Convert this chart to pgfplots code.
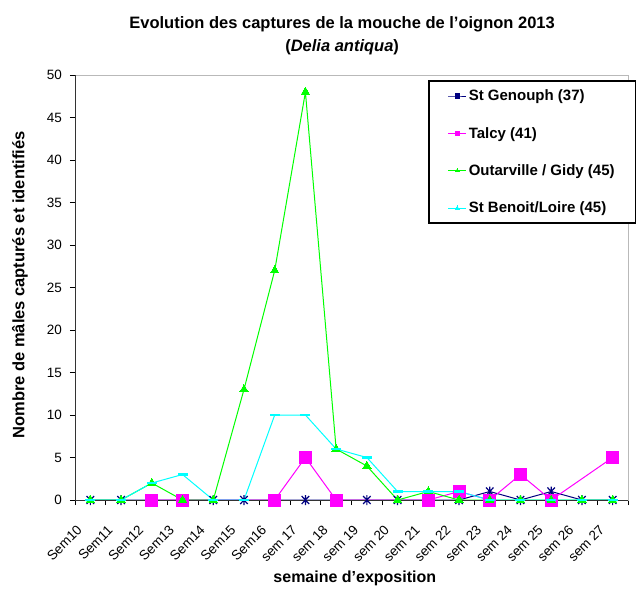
\documentclass[border=0pt]{standalone}
\usepackage{pgfplots}
\pgfplotsset{compat=1.18}
\usepackage{fontspec}
\setmainfont{Liberation Sans}
\definecolor{cnavy}{RGB}{0,0,128}
\definecolor{cmag}{RGB}{255,0,255}
\definecolor{cgreen}{RGB}{0,255,0}
\definecolor{ccyan}{RGB}{0,255,255}
\pgfdeclareplotmark{xstar}{%
  \pgfpathmoveto{\pgfqpoint{-0.75\pgfplotmarksize}{-0.8\pgfplotmarksize}}%
  \pgfpathlineto{\pgfqpoint{0.75\pgfplotmarksize}{0.8\pgfplotmarksize}}%
  \pgfpathmoveto{\pgfqpoint{-0.75\pgfplotmarksize}{0.8\pgfplotmarksize}}%
  \pgfpathlineto{\pgfqpoint{0.75\pgfplotmarksize}{-0.8\pgfplotmarksize}}%
  \pgfpathmoveto{\pgfqpoint{0pt}{-\pgfplotmarksize}}%
  \pgfpathlineto{\pgfqpoint{0pt}{\pgfplotmarksize}}%
  \pgfusepathqstroke}
\begin{document}
\begin{tikzpicture}
\begin{axis}[
  scale only axis,
  width=553pt, height=425pt,
  xmin=-0.5, xmax=17.5,
  ymin=0, ymax=50,
  xtick={-0.5,0.5,...,17.5},
  x tick label as interval,
  xticklabels={Sem10,Sem11,Sem12,Sem13,Sem14,Sem15,Sem16,sem 17,sem 18,sem 19,sem 20,sem 21,sem 22,sem 23,sem 24,sem 25,sem 26,sem 27},
  ytick={0,5,...,50},
  tick align=outside,
  xtick pos=bottom, ytick pos=left,
  major tick length=5pt,
  tick style={black, line width=0.6pt},
  axis line style={gray!55, line width=0.8pt},
  /pgf/number format/assume math mode=true,
  tick label style={font=\fontsize{13.5}{15}\selectfont},
  xticklabel style={xshift=-10pt, yshift=-22pt, rotate=45, anchor=east, inner sep=1pt},
  yticklabel style={inner sep=1pt, xshift=-7pt},
  clip=false,
  legend style={draw=black, line width=1.6pt, at={(0.6383,0.9882)}, anchor=north west,
    font=\bfseries\fontsize{15}{17}\selectfont, row sep=21pt, inner xsep=19pt, inner ysep=7pt,
    legend cell align=left},
  legend image code/.code={\draw[mark repeat=2,mark phase=2] plot coordinates {(0pt,0pt) (9pt,0pt) (18pt,0pt)};},
]
\addplot[cnavy, line width=1pt, mark=xstar, mark size=5pt, mark options={line width=1.2pt},
  legend image post style={mark=square*, mark size=2pt, line width=1pt}]
  coordinates {(0,0)(1,0)(2,0)(3,0)(4,0)(5,0)(6,0)(7,0)(8,0)(9,0)(10,0)(11,0)(12,0)(13,1)(14,0)(15,1)(16,0)(17,0)};
\addlegendentry{St Genouph (37)}
\addplot[cmag, line width=1pt, mark=square*, mark size=6pt, mark options={line width=0pt},
  legend image post style={mark size=2.2pt, line width=1pt}]
  coordinates {(2,0)(3,0)(6,0)(7,5)(8,0)(11,0)(12,1)(13,0)(14,3)(15,0)(17,5)};
\addlegendentry{Talcy (41)}
\addplot[cgreen, line width=1pt, mark=triangle*, mark size=4.8pt, mark options={line width=0pt},
  legend image post style={mark size=2.2pt, line width=1pt}]
  coordinates {(0,0)(1,0)(2,2)(3,0)(4,0)(5,13)(6,27)(7,48)(8,6)(9,4)(10,0)(11,1)(12,0)(13,0)(14,0)(15,0)(16,0)(17,0)};
\addlegendentry{Outarville / Gidy (45)}
\addplot[ccyan, line width=1pt, mark=-, mark size=5pt, mark options={line width=2.4pt},
  legend image post style={mark=triangle*, mark size=2.2pt, line width=1pt, mark options={line width=0pt}}]
  coordinates {(0,0)(1,0)(2,2)(3,3)(4,0)(5,0)(6,10)(7,10)(8,6)(9,5)(10,1)(11,1)(12,1)(13,0)(14,0)(15,0)(16,0)(17,0)};
\addlegendentry{St Benoit/Loire (45)}
\draw[black!80, line width=0.9pt] (rel axis cs:0,1) -- (rel axis cs:0,0) -- (rel axis cs:1,0);
\node[font=\bfseries\fontsize{16.5}{20}\selectfont, align=center, anchor=south] at (rel axis cs:0.483,1) [yshift=17pt]
  {Evolution des captures de la mouche de l'oignon 2013\\[3pt](\textit{Delia antiqua})};
\node[font=\bfseries\fontsize{16.5}{19}\selectfont, rotate=90] at (rel axis cs:-0.0995,0.506) {Nombre de mâles capturés et identifiés};
\node[font=\bfseries\fontsize{16}{19}\selectfont] at (rel axis cs:0.506,-0.1835) {semaine d'exposition};
\end{axis}
\pgfresetboundingbox
\path (-75pt,-90pt) rectangle (561pt,500pt);
\end{tikzpicture}
\end{document}
